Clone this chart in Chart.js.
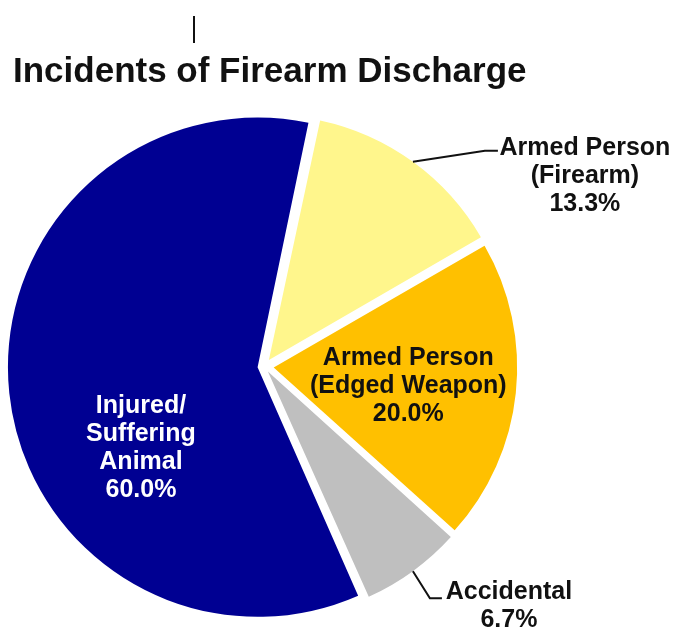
<!DOCTYPE html>
<html>
<head>
<meta charset="utf-8">
<script src="https://cdn.jsdelivr.net/npm/chart.js@4/dist/chart.umd.min.js"></script>
<style>
  body { margin: 0; background: #fff; }
  #wrap { position: relative; width: 674px; height: 628px; }
</style>
</head>
<body>
<div id="wrap"><canvas id="myChart"></canvas></div>
<script>
// incident counts (15 in total)
var categories = ['Armed Person (Firearm)', 'Armed Person (Edged Weapon)', 'Accidental', 'Injured/Suffering Animal'];
var incidents = [2, 3, 1, 9];
var labelLines = [
    ['Armed Person', '(Firearm)'],
    ['Armed Person', '(Edged Weapon)'],
    ['Accidental'],
    ['Injured/', 'Suffering', 'Animal']
];
var chartTitle = 'Incidents of Firearm Discharge';

var FONT = '"Liberation Sans", Arial, Helvetica, sans-serif';
Chart.defaults.font.family = FONT;

// how far each slice is pulled out, in px
var explode = [10, 10, 10, 13.3];

// Chart.js moves an arc by offset/4 * (1 + fix), so work back to the option value
function shiftFactor(circ) {
    return (1 + (1 - Math.sin(Math.min(Math.PI, circ)))) / 4;
}
var total = incidents.reduce(function(a, b) { return a + b; }, 0);
var arcOffsets = incidents.map(function(v, i) {
    return explode[i] / shiftFactor(2 * Math.PI * v / total);
});

// where each slice label goes: inside (angle/r) or outside with a leader line
var labelPlacement = [
    { leader: true, elbow: [72, -11], tail: 13, dx: 87, dy: 4, color: '#111' },
    { angle: 96.8, r: 0.556, color: '#111' },
    { leader: true, elbow: [17, 27], tail: 12, dx: 67, dy: 1, color: '#111' },
    { angle: 234.5, r: 0.556, color: '#fff' }
];

var sliceLabels = {
    id: 'sliceLabels',
    afterDatasetsDraw: function(chart) {
        var ctx = chart.ctx;
        var meta = chart.getDatasetMeta(0);
        var data = chart.data.datasets[0].data;
        var lh = 28;
        ctx.save();

        // title
        ctx.fillStyle = '#111';
        ctx.font = 'bold 35px ' + FONT;
        ctx.textAlign = 'left';
        ctx.textBaseline = 'alphabetic';
        ctx.fillText(chartTitle, 13, 82);
        // little stray tick above the title
        ctx.fillRect(193, 16, 2, 27);

        ctx.font = 'bold 25px ' + FONT;
        ctx.textAlign = 'center';
        meta.data.forEach(function(arc, i) {
            var p = labelPlacement[i];
            var lines = labelLines[i].concat((data[i] / total * 100).toFixed(1) + '%');
            var mid = (arc.startAngle + arc.endAngle) / 2;
            var sh = (arc.options.offset || 0) * shiftFactor(arc.circumference);
            var ox = arc.x + Math.cos(mid) * sh;
            var oy = arc.y + Math.sin(mid) * sh;
            ctx.fillStyle = p.color;
            if (p.leader) {
                var sx = ox + Math.cos(mid) * arc.outerRadius;
                var sy = oy + Math.sin(mid) * arc.outerRadius;
                var ex = sx + p.elbow[0], ey = sy + p.elbow[1];
                ctx.beginPath();
                ctx.moveTo(sx, sy);
                ctx.lineTo(ex, ey);
                ctx.lineTo(ex + p.tail, ey);
                ctx.strokeStyle = '#111';
                ctx.lineWidth = 2;
                ctx.stroke();
                var tx = ex + p.tail + p.dx;
                lines.forEach(function(t, k) {
                    ctx.fillText(t, tx, ey + p.dy + k * lh);
                });
            } else {
                var a = (p.angle - 90) * Math.PI / 180;
                var cx = ox + Math.cos(a) * arc.outerRadius * p.r;
                var cy = oy + Math.sin(a) * arc.outerRadius * p.r;
                lines.forEach(function(t, k) {
                    ctx.fillText(t, cx, cy + (k - (lines.length - 1) / 2) * lh + 9);
                });
            }
        });
        ctx.restore();
    }
};

var ctx = document.getElementById('myChart').getContext('2d');
var myChart = new Chart(ctx, {
    type: 'pie',
    data: {
        labels: categories,
        datasets: [{
            data: incidents,
            backgroundColor: ['#FFF68C', '#FFC000', '#BFBFBF', '#000092'],
            borderWidth: 0,
            offset: arcOffsets
        }]
    },
    options: {
        responsive: true,
        maintainAspectRatio: false,
        animation: false,
        rotation: 12,
        radius: 243,
        layout: {
            padding: { left: 10, right: 155.6, top: 110, bottom: 5 }
        },
        plugins: {
            legend: { display: false },
            tooltip: { enabled: false },
            title: { display: false }
        }
    },
    plugins: [sliceLabels]
});
</script>
</body>
</html>
